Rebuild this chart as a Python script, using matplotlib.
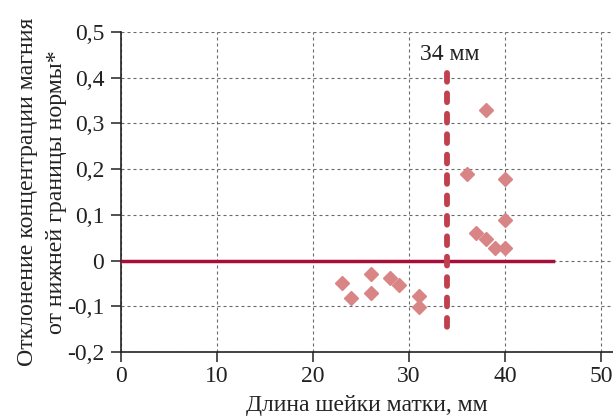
import matplotlib
matplotlib.use("Agg")
import matplotlib.pyplot as plt

x_vals = [23, 24, 26, 26, 28, 29, 31, 31, 36, 38, 40, 40, 37, 38, 39, 40]
y_vals = [-0.050, -0.082, -0.029, -0.070, -0.039, -0.053, -0.078, -0.102,
          0.190, 0.330, 0.179, 0.088, 0.061, 0.048, 0.027, 0.027]
threshold = 34
threshold_label = "34 мм"
x_ticks = [0, 10, 20, 30, 40, 50]
y_ticks = [-0.2, -0.1, 0, 0.1, 0.2, 0.3, 0.4, 0.5]
y_tick_labels = ["-0,2", "-0,1", "0", "0,1", "0,2", "0,3", "0,4", "0,5"]

plt.rcParams['font.family'] = ['Liberation Serif', 'DejaVu Serif']

fig = plt.figure(figsize=(6.13, 4.16), dpi=100)
ax = fig.add_axes([121/613, 1-352/416, 1-121/613, (352-32)/416])

ax.set_xlim(0, 51.25)
ax.set_ylim(-0.2, 0.5)
ax.set_xticks(x_ticks)
ax.set_yticks(y_ticks)
ax.set_yticklabels(y_tick_labels)
ax.grid(True, linestyle=(0, (2.7, 2.7)), color='#6a6a6a', linewidth=0.8)
ax.set_axisbelow(True)
for s in ['top', 'right']:
    ax.spines[s].set_visible(False)
for s in ['left', 'bottom']:
    ax.spines[s].set_color('#222222')
    ax.spines[s].set_linewidth(1.2)
ax.tick_params(axis='both', labelsize=17, colors='#222222', length=7, width=1.1, direction='out')
ax.tick_params(axis='x', pad=3)
ax.tick_params(axis='y', pad=5)

ax.plot([0, 45], [0, 0], color='#a50f3a', linewidth=2.5, zorder=3)
ax.plot([threshold, threshold], [0.41, -0.16], color='#c0404e', linewidth=4.2,
        linestyle=(0, (1.5, 2.0)), dash_capstyle='round', solid_capstyle='round', zorder=4)
ax.plot(x_vals, y_vals, linestyle='none', marker='D', markersize=6.8, color='#d98585', zorder=5)
ax.text(threshold + 0.2, 0.439, threshold_label, ha='center', va='baseline', fontsize=17, color='#222222')

ax.set_xlabel("Длина шейки матки, мм", fontsize=17, color='#222222', labelpad=6)
ax.set_ylabel("Отклонение концентрации магния\nот нижней границы нормы*", fontsize=17.2,
              color='#222222', linespacing=1.5)
ax.yaxis.set_label_coords(-0.11, 0.5)

fig.savefig("out.png", dpi=100)
